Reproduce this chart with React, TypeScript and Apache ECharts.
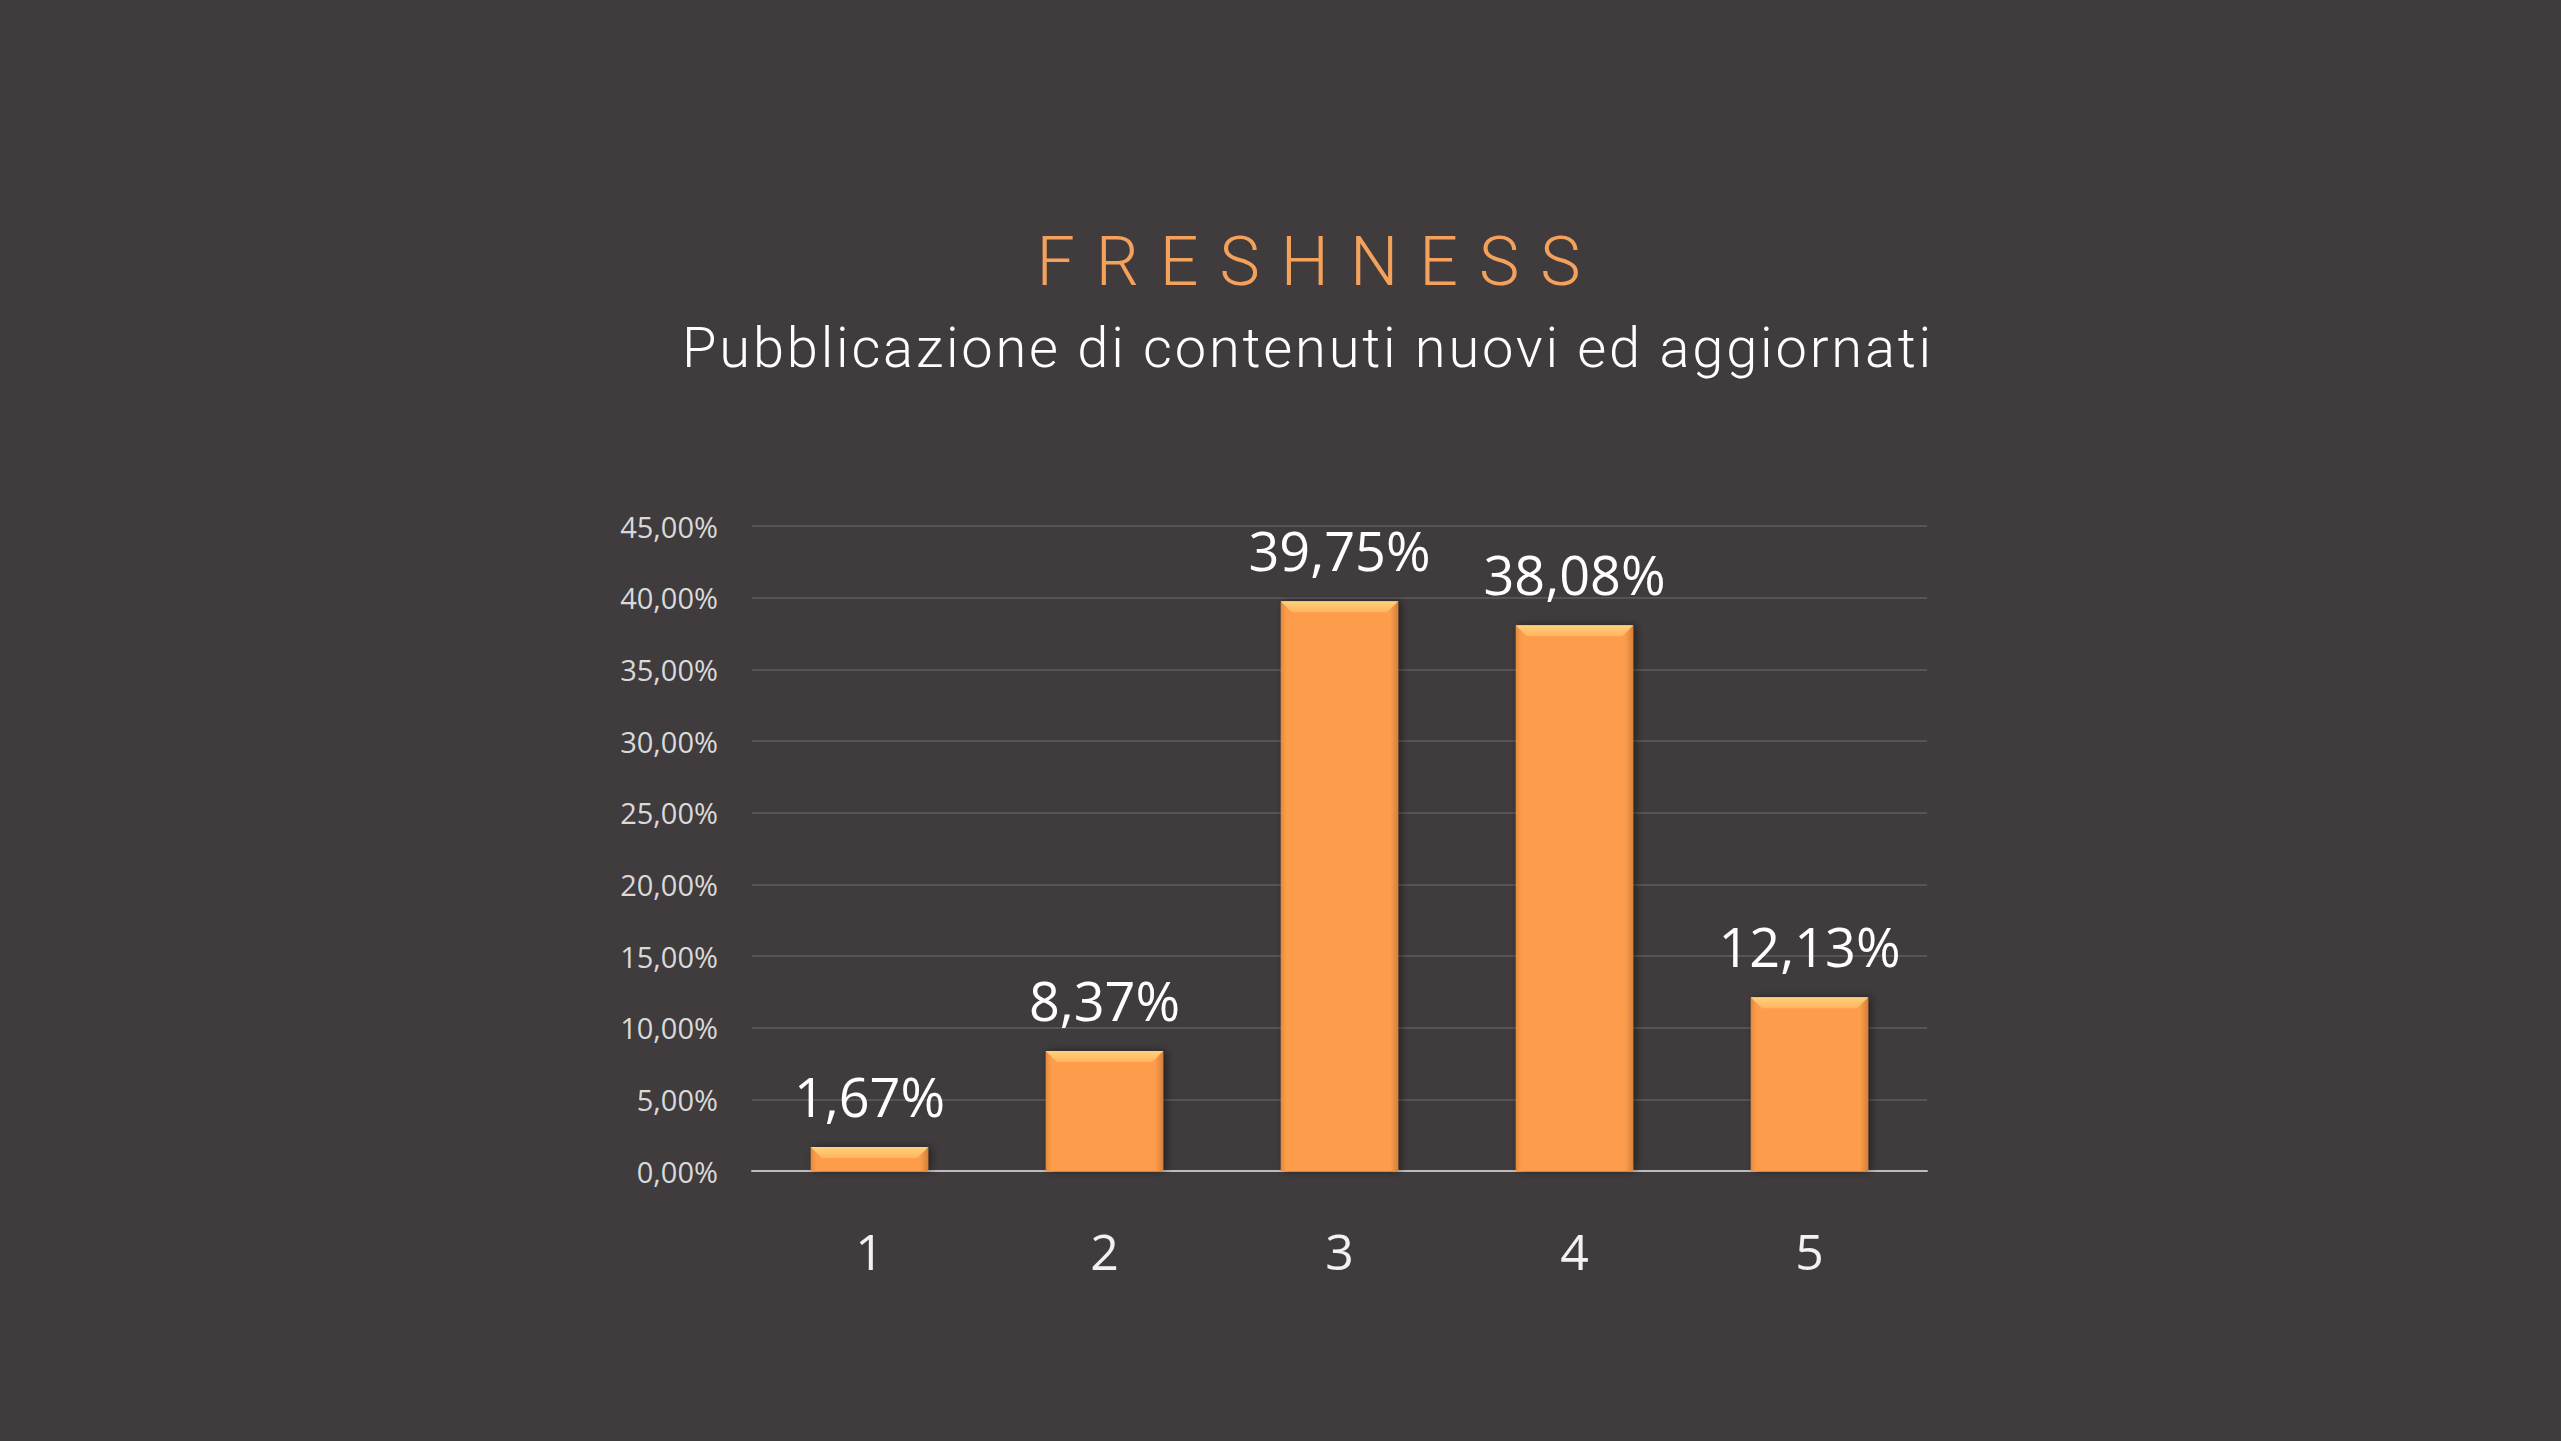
import React, { useEffect, useRef } from "react";
import * as echarts from "echarts";

const categories = ["1", "2", "3", "4", "5"];
const values = [1.67, 8.37, 39.75, 38.08, 12.13];
const yTicks = { min: 0, max: 45, interval: 5 };
const titleText = "FRESHNESS";
const subtitleText = "Pubblicazione di contenuti nuovi ed aggiornati";

const fmt = (v: number) => v.toFixed(2).replace(".", ",") + "%";

export default function App() {
  const ref = useRef<HTMLDivElement>(null);
  useEffect(() => {
    if (!ref.current) return;
    const chart = echarts.init(ref.current, null, { renderer: "svg" });
    const BG = "#403c3d";
    chart.setOption({
      animation: false,
      backgroundColor: BG,
      graphic: [
        {
          type: "text",
          x: 1319,
          y: 262,
          style: {
            text: titleText,
            fill: "#f3a15b",
            font: "300 68px Roboto",
            textAlign: "center",
            textVerticalAlign: "middle",
          },
        },
        {
          type: "text",
          x: 1308,
          y: 348,
          style: {
            text: subtitleText,
            fill: "#ffffff",
            font: "300 56px Roboto",
            textAlign: "center",
            textVerticalAlign: "middle",
          },
        },
      ],
      grid: { left: 752, right: 634, top: 526, bottom: 270 },
      xAxis: {
        type: "category",
        data: categories,
        axisLine: { lineStyle: { color: "#bdbdbd", width: 2 } },
        axisTick: { show: false },
        axisLabel: {
          color: "#f2f2f2",
          fontSize: 50,
          fontFamily: "Open Sans",
          margin: 55,
        },
      },
      yAxis: {
        type: "value",
        min: yTicks.min,
        max: yTicks.max,
        interval: yTicks.interval,
        axisLine: { show: false },
        axisTick: { show: false },
        splitLine: { lineStyle: { color: "#585455", width: 2 } },
        axisLabel: {
          color: "#d9d9d9",
          fontSize: 29,
          fontFamily: "Open Sans",
          margin: 34,
          formatter: (v: number) => fmt(v),
        },
      },
      series: [
        {
          type: "bar",
          data: values,
          barWidth: "50%",
          itemStyle: {
            color: {
              type: "linear",
              x: 0,
              y: 0,
              x2: 1,
              y2: 0,
              colorStops: [
                { offset: 0, color: "#e48a3c" },
                { offset: 0.05, color: "#fd9d4b" },
                { offset: 0.93, color: "#fd9d4b" },
                { offset: 1, color: "#d5803a" },
              ],
            },
            shadowBlur: 8,
            shadowColor: "rgba(0,0,0,0.45)",
            shadowOffsetX: 3,
            shadowOffsetY: 0,
          },
          label: {
            show: true,
            position: "top",
            distance: 24,
            color: "#ffffff",
            fontSize: 54,
            fontFamily: "Open Sans",
            formatter: (p: any) => fmt(p.value),
          },
        },
        {
          type: "custom",
          silent: true,
          z: 5,
          data: values.map((v, i) => [i, v]),
          renderItem: (params: any, api: any) => {
            const idx = api.value(0);
            const val = api.value(1);
            const top = api.coord([idx, val]);
            const w = api.size([1, 0])[0] * 0.5;
            const l = top[0] - w / 2;
            const r = top[0] + w / 2;
            const t = top[1];
            const b = 11;
            return {
              type: "polygon",
              shape: {
                points: [
                  [l, t],
                  [r, t],
                  [r - b, t + b],
                  [l + b, t + b],
                ],
              },
              style: {
                fill: {
                  type: "linear",
                  x: 0,
                  y: 0,
                  x2: 0,
                  y2: 1,
                  colorStops: [
                    { offset: 0, color: "#ffd27c" },
                    { offset: 1, color: "#ffb35e" },
                  ],
                },
              },
            };
          },
        },
      ],
    });
    // letter spacing for the title texts (tracked typography in the reference)
    const texts = ref.current.querySelectorAll("text");
    texts.forEach((t) => {
      if (t.textContent === titleText) {
        (t as any).style.letterSpacing = "21px";
      } else if (t.textContent === subtitleText) {
        (t as any).style.letterSpacing = "2.8px";
      }
    });
    return () => chart.dispose();
  }, []);
  return (
    <div
      ref={ref}
      style={{ position: "fixed", left: 0, top: 0, width: "100vw", height: "100vh" }}
    />
  );
}
